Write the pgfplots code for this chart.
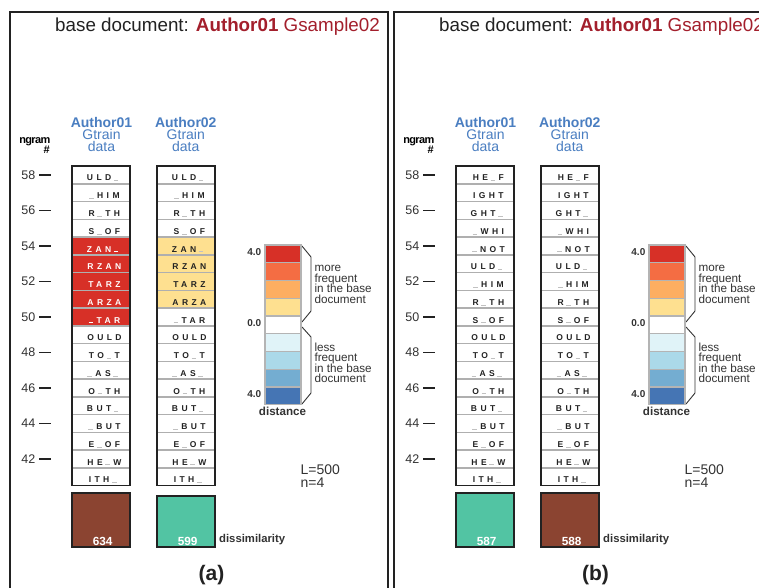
\documentclass[border=0pt]{standalone}
\usepackage{fontspec}
\setmainfont{Liberation Sans}
\newfontfamily\cellff{Liberation Sans}[LetterSpace=40]
\newfontfamily\tightff{Liberation Sans}[LetterSpace=-6]
\usepackage{pgfplots}
\pgfplotsset{compat=1.18}
\definecolor{cR}{HTML}{D73027}
\definecolor{cO}{HTML}{F46D43}
\definecolor{cL}{HTML}{FDAE61}
\definecolor{cY}{HTML}{FEE090}
\definecolor{cP}{HTML}{E0F3F8}
\definecolor{cQ}{HTML}{ABD9E9}
\definecolor{cS}{HTML}{74ADD1}
\definecolor{cB}{HTML}{4575B4}
\definecolor{dissBrown}{HTML}{8B4431}
\definecolor{dissTeal}{HTML}{52C4A3}
\definecolor{cellline}{HTML}{AFAFAF}
\definecolor{lgline}{HTML}{B4B4B4}
\definecolor{boxc}{HTML}{222222}
\definecolor{txt}{HTML}{333333}
\definecolor{titlered}{HTML}{A31F2C}
\definecolor{hblue}{HTML}{4A7EC1}

\pgfdeclareplotmark{cell}{\pgfpathrectangle{\pgfpoint{-29pt}{-8.875pt}}{\pgfpoint{58pt}{17.75pt}}\pgfusepathqfillstroke}
\pgfdeclareplotmark{lcell}{\pgfpathrectangle{\pgfpoint{-18pt}{-8.875pt}}{\pgfpoint{36pt}{17.75pt}}\pgfusepathqfillstroke}
\pgfdeclareplotmark{colframe}{\pgfpathrectangle{\pgfpoint{-29pt}{-159.75pt}}{\pgfpoint{58pt}{319.5pt}}\pgfusepathqstroke}
\pgfdeclareplotmark{nothing}{}

% a space in an n-gram: a light grey underscore (\V at the start, \U elsewhere)
\protected\def\V{{\color{.!28!white}\rule[-0.4pt]{4.6pt}{1.1pt}}\kern3.4pt}
\protected\def\U{\kern2.6pt\V}

\pgfplotsset{
  mainax/.style={anchor=south west, x=1pt, y=17.75pt,
    xmin=51, xmax=384, ymin=40, ymax=59,
    enlargelimits=false, clip=false,
    axis x line=none, axis y line*=left,
    y axis line style={draw=none},
    ytick={42,44,...,58}, tick align=outside, major tick length=12pt,
    tick style={line width=1.6pt, color=boxc},
    yticklabel style={font=\fontsize{12.5}{12.5}\selectfont, text=txt, inner sep=0pt, xshift=-3.5pt},
    /pgf/number format/assume math mode=true},
  cells/.style={only marks, mark=cell,
    mark options={draw=cellline, line width=1.4pt, fill=#1},
    point meta=explicit symbolic, nodes near coords,
    every node near coord/.append style={font=\cellff\bfseries\fontsize{8.5}{8.5}\selectfont,
      anchor=base, yshift=-3pt, xshift=1.7pt, inner sep=0pt, text=boxc}},
  legc/.style={only marks, mark=lcell, mark options={draw=lgline, line width=1.2pt, fill=#1}},
  colbox/.style={only marks, mark=colframe, mark options={draw=boxc, line width=1.7pt, line join=miter}},
  barax/.style={anchor=south west, x=1pt, xmin=51, xmax=384, ymin=0, hide axis, clip=false},
  dbar/.style={ybar, bar width=58pt, bar shift=0pt, fill=#1, draw=boxc, line width=1.4pt},
  dval/.style={only marks, mark=nothing, point meta=explicit symbolic, nodes near coords,
    every node near coord/.append style={font=\bfseries\fontsize{11.8}{11.8}\selectfont,
      anchor=base, yshift=4.7pt, inner sep=0pt, text=white}},
}

\newcommand\panel[2]{%
\begin{scope}[x=1pt,y=-1pt,yshift=587pt,xshift=#1]
  \draw[line width=1.6pt, boxc] (10,600)--(10,12)--(388,12)--(388,600);
  \node[anchor=base west, inner sep=0pt, font=\fontsize{18.8}{20}\selectfont, text=boxc] at (55,31.5)
    {base document: \textcolor{titlered}{\textbf{Author01} Gsample02}};
  \node[anchor=base, inner sep=0pt, font=\bfseries\fontsize{14}{14}\selectfont, text=hblue] at (101.5,127.3) {Author01};
  \node[anchor=base, inner sep=0pt, font=\fontsize{14}{14}\selectfont, text=hblue] at (101.5,139.6) {Gtrain};
  \node[anchor=base, inner sep=0pt, font=\fontsize{14}{14}\selectfont, text=hblue] at (101.5,151.8) {data};
  \node[anchor=base, inner sep=0pt, font=\bfseries\fontsize{14}{14}\selectfont, text=hblue] at (185.8,127.3) {Author02};
  \node[anchor=base, inner sep=0pt, font=\fontsize{14}{14}\selectfont, text=hblue] at (185.8,139.6) {Gtrain};
  \node[anchor=base, inner sep=0pt, font=\fontsize{14}{14}\selectfont, text=hblue] at (185.8,151.8) {data};
  \node[anchor=base east, inner sep=0pt, font=\tightff\bfseries\fontsize{11}{11}\selectfont, text=black] at (50.5,143.3) {ngram};
  \node[anchor=base east, inner sep=0pt, font=\bfseries\fontsize{11}{11}\selectfont, text=black] at (50,154) {\#};
  \node[anchor=mid east, inner sep=0pt, font=\bfseries\fontsize{10}{10}\selectfont, text=txt] at (261.5,253) {4.0};
  \node[anchor=mid east, inner sep=0pt, font=\bfseries\fontsize{10}{10}\selectfont, text=txt] at (261.5,323.5) {0.0};
  \node[anchor=mid east, inner sep=0pt, font=\bfseries\fontsize{10}{10}\selectfont, text=txt] at (261.5,395) {4.0};
  \node[anchor=mid, inner sep=0pt, font=\bfseries\fontsize{11.6}{11.6}\selectfont, text=txt] at (282.5,413) {distance};
  \draw[line width=0.9pt, txt, line join=round] (302,246)--(311,257)--(311,311)--(302,322);
  \draw[line width=0.9pt, txt, line join=round] (302,327)--(311,337)--(311,393)--(302,404);
  \foreach \yy/\tt in {271.7/more, 282.2/frequent, 292.7/in the base, 303.2/document,
                       351/less, 361.5/frequent, 372/in the base, 382.5/document}
    \node[anchor=base west, inner sep=0pt, font=\fontsize{11.7}{11.7}\selectfont, text=txt] at (314.3,\yy) {\tt};
  \node[anchor=base west, inner sep=0pt, font=\fontsize{14}{14}\selectfont, text=txt] at (300.5,474.3) {L=500};
  \node[anchor=base west, inner sep=0pt, font=\fontsize{14}{14}\selectfont, text=txt] at (300.5,487) {n=4};
  \node[anchor=base west, inner sep=0pt, font=\bfseries\fontsize{11.3}{11.3}\selectfont, text=txt] at (219,542) {dissimilarity};
  \node[anchor=base, inner sep=0pt, font=\bfseries\fontsize{21}{21}\selectfont, text=boxc] at (211.5,580) {(#2)};
\end{scope}}

\begin{document}
\begin{tikzpicture}
\useasboundingbox (0,0) rectangle (759pt,587pt);
\clip (0,0) rectangle (759pt,587pt);
\fill[white] (0,0) rectangle (759pt,587pt);
\panel{0pt}{a}
\panel{384pt}{b}

% ---------- panel (a) ----------
\begin{axis}[mainax, at={(51pt,92.5pt)}]
  % Author01 column
  \addplot[cells=white] coordinates {(101,58)[ULD\U] (101,57)[\V HIM] (101,56)[R\U TH] (101,55)[S\U OF]
    (101,49)[OULD] (101,48)[TO\U T] (101,47)[\V AS\U] (101,46)[O\U TH] (101,45)[BUT\U]
    (101,44)[\V BUT] (101,43)[E\U OF] (101,42)[HE\U W] (101,41)[ITH\U]};
  \addplot[cells=cR, every node near coord/.append style={text=white}] coordinates {(101,54)[ZAN\U] (101,53)[RZAN] (101,52)[TARZ] (101,51)[ARZA] (101,50)[\V TAR]};
  \addplot[colbox] coordinates {(101,49.5)};
  % Author02 column
  \addplot[cells=white] coordinates {(186,58)[ULD\U] (186,57)[\V HIM] (186,56)[R\U TH] (186,55)[S\U OF]
    (186,50)[\V TAR] (186,49)[OULD] (186,48)[TO\U T] (186,47)[\V AS\U] (186,46)[O\U TH] (186,45)[BUT\U]
    (186,44)[\V BUT] (186,43)[E\U OF] (186,42)[HE\U W] (186,41)[ITH\U]};
  \addplot[cells=cY] coordinates {(186,54)[ZAN\U] (186,53)[RZAN] (186,52)[TARZ] (186,51)[ARZA]};
  \addplot[colbox] coordinates {(186,49.5)};
  % distance colour key
  \addplot[legc=cR] coordinates {(283,53.556)};
  \addplot[legc=cO] coordinates {(283,52.556)};
  \addplot[legc=cL] coordinates {(283,51.556)};
  \addplot[legc=cY] coordinates {(283,50.556)};
  \addplot[legc=white] coordinates {(283,49.556)};
  \addplot[legc=cP] coordinates {(283,48.556)};
  \addplot[legc=cQ] coordinates {(283,47.556)};
  \addplot[legc=cS] coordinates {(283,46.556)};
  \addplot[legc=cB] coordinates {(283,45.556)};
\end{axis}
\begin{axis}[barax, at={(51pt,40pt)}, y=0.085174pt, ymax=634]
  \addplot[dbar=dissBrown] coordinates {(101,634)};
  \addplot[dbar=dissTeal] coordinates {(186,599)};
  \addplot[dval] coordinates {(101,0)[634] (186,0)[599]};
\end{axis}

% ---------- panel (b) ----------
\begin{axis}[mainax, at={(435pt,92.5pt)}]
  \addplot[cells=white] coordinates {(101,58)[HE\U F] (101,57)[IGHT] (101,56)[GHT\U] (101,55)[\V WHI]
    (101,54)[\V NOT] (101,53)[ULD\U] (101,52)[\V HIM] (101,51)[R\U TH] (101,50)[S\U OF]
    (101,49)[OULD] (101,48)[TO\U T] (101,47)[\V AS\U] (101,46)[O\U TH] (101,45)[BUT\U]
    (101,44)[\V BUT] (101,43)[E\U OF] (101,42)[HE\U W] (101,41)[ITH\U]};
  \addplot[colbox] coordinates {(101,49.5)};
  \addplot[cells=white] coordinates {(186,58)[HE\U F] (186,57)[IGHT] (186,56)[GHT\U] (186,55)[\V WHI]
    (186,54)[\V NOT] (186,53)[ULD\U] (186,52)[\V HIM] (186,51)[R\U TH] (186,50)[S\U OF]
    (186,49)[OULD] (186,48)[TO\U T] (186,47)[\V AS\U] (186,46)[O\U TH] (186,45)[BUT\U]
    (186,44)[\V BUT] (186,43)[E\U OF] (186,42)[HE\U W] (186,41)[ITH\U]};
  \addplot[colbox] coordinates {(186,49.5)};
  \addplot[legc=cR] coordinates {(283,53.556)};
  \addplot[legc=cO] coordinates {(283,52.556)};
  \addplot[legc=cL] coordinates {(283,51.556)};
  \addplot[legc=cY] coordinates {(283,50.556)};
  \addplot[legc=white] coordinates {(283,49.556)};
  \addplot[legc=cP] coordinates {(283,48.556)};
  \addplot[legc=cQ] coordinates {(283,47.556)};
  \addplot[legc=cS] coordinates {(283,46.556)};
  \addplot[legc=cB] coordinates {(283,45.556)};
\end{axis}
\begin{axis}[barax, at={(435pt,40pt)}, y=0.091837pt, ymax=588]
  \addplot[dbar=dissTeal] coordinates {(101,587)};
  \addplot[dbar=dissBrown] coordinates {(186,588)};
  \addplot[dval] coordinates {(101,0)[587] (186,0)[588]};
\end{axis}
\end{tikzpicture}
\end{document}
